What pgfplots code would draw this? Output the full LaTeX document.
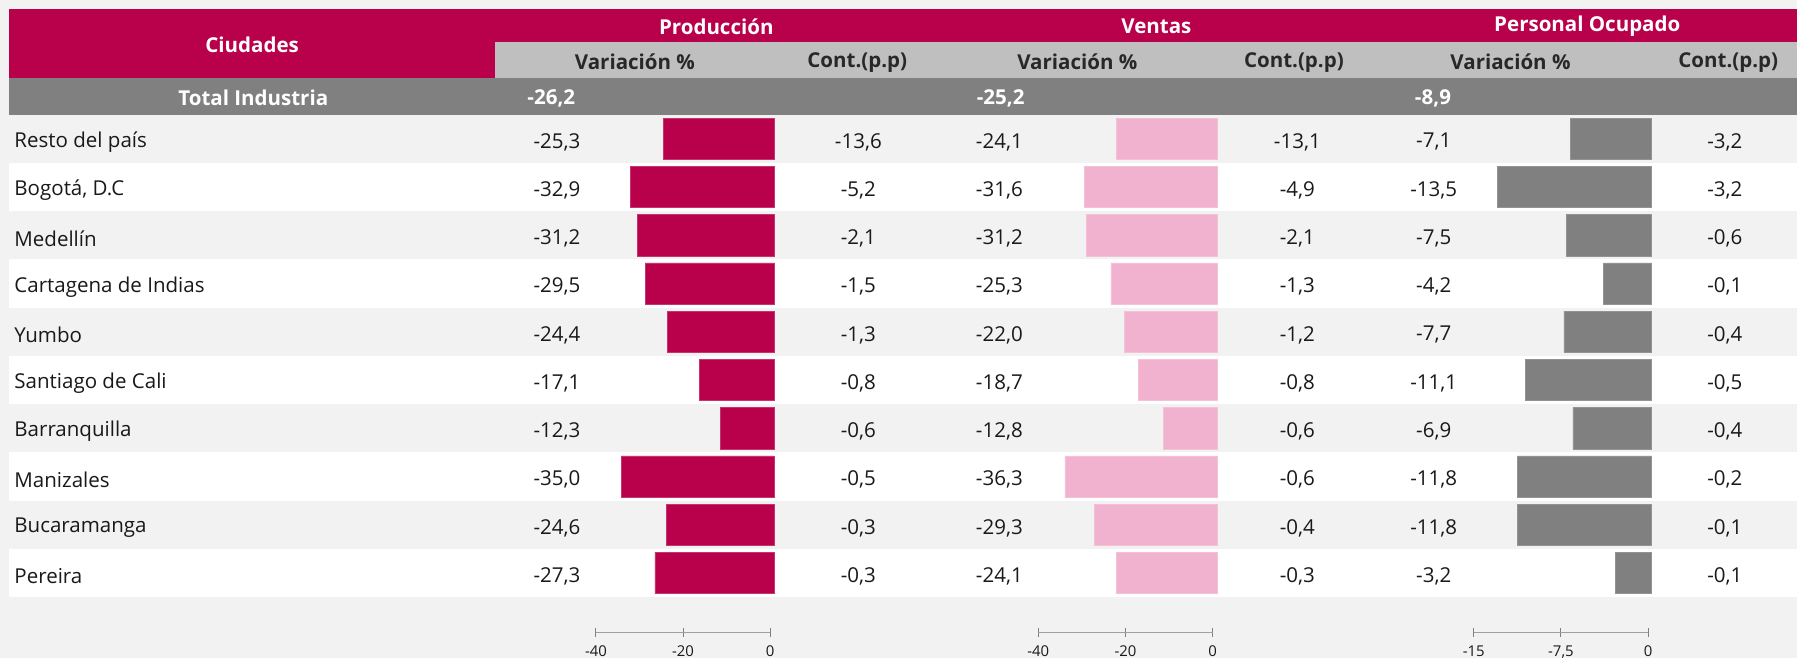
\documentclass[border=0pt]{standalone}
\usepackage{pgfplots}
\pgfplotsset{compat=1.18}
\usepackage{pgfplotstable}
\usepackage{fontspec}
\setmainfont{Open Sans}
\definecolor{crim}{RGB}{185,0,74}
\definecolor{pinkb}{RGB}{241,178,208}
\definecolor{greyb}{RGB}{128,128,128}
\definecolor{subh}{RGB}{191,191,191}
\definecolor{bgl}{RGB}{242,242,242}
\definecolor{txt}{RGB}{25,25,25}
\definecolor{htxt}{RGB}{40,40,40}
\newcommand{\bodyfont}{\fontsize{8.95}{10}\selectfont}
\newcommand{\headfont}{\fontsize{8.95}{10}\selectfont\bfseries}

\pgfplotstableread{
row prodv prodc ventv ventc persv persc
1 -25.3 -13.6 -24.1 -13.1 -7.1 -3.2
2 -32.9 -5.2 -31.6 -4.9 -13.5 -3.2
3 -31.2 -2.1 -31.2 -2.1 -7.5 -0.6
4 -29.5 -1.5 -25.3 -1.3 -4.2 -0.1
5 -24.4 -1.3 -22.0 -1.2 -7.7 -0.4
6 -17.1 -0.8 -18.7 -0.8 -11.1 -0.5
7 -12.3 -0.6 -12.8 -0.6 -6.9 -0.4
8 -35.0 -0.5 -36.3 -0.6 -11.8 -0.2
9 -24.6 -0.3 -29.3 -0.4 -11.8 -0.1
10 -27.3 -0.3 -24.1 -0.3 -3.2 -0.1
}\datatable

\pgfplotsset{
  barpanel/.style={
    scale only axis, clip=false,
    y dir=reverse, ymin=0.5, ymax=10.5,
    height=210.5pt,
    axis line style={draw=none},
    major tick length=0pt,
    xtick=\empty, ytick=\empty,
    anchor=north east,
    /pgf/number format/assume math mode=true,
  },
  valcol/.style={
    draw=none, mark=none, point meta=explicit,
    nodes near coords={\pgfmathprintnumber[fixed,fixed zerofill,precision=1,use comma,assume math mode=true]{\pgfplotspointmeta}},
    every node near coord/.style={anchor=center, inner sep=0pt, yshift=-1.4pt, font=\bodyfont, text=txt},
  },
  totcol/.style={
    draw=none, mark=none, point meta=explicit,
    nodes near coords={\pgfmathprintnumber[fixed,fixed zerofill,precision=1,use comma,assume math mode=true]{\pgfplotspointmeta}},
    every node near coord/.style={anchor=center, inner sep=0pt, yshift=-0.8pt, font=\headfont, text=white},
  },
  scalepanel/.style={
    scale only axis, width=76pt, height=8pt, anchor=south east,
    ymin=0, ymax=1,
    axis x line*=bottom, axis y line=none,
    axis line style={draw=gray!75, line width=0.75pt},
    x tick style={draw=gray, line width=0.45pt},
    major tick length=4pt, tick align=center,
    xticklabel style={font=\fontsize{6.5}{7}\selectfont, text=txt, inner sep=1pt, yshift=-2.6pt},
    /pgf/number format/assume math mode=true,
    /pgf/number format/use comma,
  },
}

\begin{document}
\begin{tikzpicture}
\begin{scope}[x=0.5pt,y=-0.5pt]
\fill[bgl] (0,0) rectangle (1568,574);
\fill[crim] (8,8) rectangle (1568,37);
\fill[crim] (8,8) rectangle (432,68);
\fill[subh] (432,37) rectangle (1568,68);
\fill[greyb] (8,68) rectangle (1568,100);
\foreach \i in {2,4,6,8,10} {
  \fill[white] (8,{100+42.1*(\i-1)}) rectangle (1568,{100+42.1*\i});
}
\begin{scope}[every node/.style={font=\headfont, yshift=-0.6pt}]
\node[text=white] at (220,38) {Ciudades};
\node[text=white] at (625,22) {Producción};
\node[text=white] at (1009,22) {Ventas};
\node[text=white] at (1385,22) {Personal Ocupado};
\node[text=htxt] at (554,53) {Variación \%};
\node[text=htxt] at (748,53) {Cont.(p.p)};
\node[text=htxt] at (940,53) {Variación \%};
\node[text=htxt] at (1129,53) {Cont.(p.p)};
\node[text=htxt] at (1318,53) {Variación \%};
\node[text=htxt] at (1508,53) {Cont.(p.p)};
\node[text=white] at (221,84) {Total Industria};
\end{scope}
\end{scope}

% Produccion
\begin{axis}[barpanel, at={(338pt,-50pt)}, width=76.6pt, xmin=-40, xmax=0,
  ytick={1,...,10},
  yticklabels={Resto del país,{Bogotá, D.C},Medellín,Cartagena de Indias,Yumbo,Santiago de Cali,Barranquilla,Manizales,Bucaramanga,Pereira},
  yticklabel style={anchor=west, inner sep=0pt, xshift=-255.3pt, yshift=-1.4pt, font=\bodyfont, text=txt},
  ]
\addplot[xbar, bar width=0.855, fill=crim, draw=crim!80!white, line width=0.3pt] table[x=prodv, y=row] {\datatable};
\addplot[valcol] table[x expr=-49.61, y=row, meta=prodv] {\datatable};
\addplot[valcol] table[x expr=19.06, y=row, meta=prodc] {\datatable};
\addplot[totcol] coordinates {(-50.9,0.12) [-26.2]};
\end{axis}

% Ventas
\begin{axis}[barpanel, at={(531pt,-50pt)}, width=73.2pt, xmin=-40, xmax=0]
\addplot[xbar, bar width=0.855, fill=pinkb, draw=pinkb!80!white, line width=0.3pt] table[x=ventv, y=row] {\datatable};
\addplot[valcol] table[x expr=-51.91, y=row, meta=ventv] {\datatable};
\addplot[valcol] table[x expr=19.13, y=row, meta=ventc] {\datatable};
\addplot[totcol] coordinates {(-51.6,0.12) [-25.2]};
\end{axis}

% Personal
\begin{axis}[barpanel, at={(720.5pt,-50pt)}, width=74.475pt, xmin=-15, xmax=0]
\addplot[xbar, bar width=0.855, fill=greyb, draw=greyb!85!white, line width=0.3pt] table[x=persv, y=row] {\datatable};
\addplot[valcol] table[x expr=-19.13, y=row, meta=persv] {\datatable};
\addplot[valcol] table[x expr=6.445, y=row, meta=persc] {\datatable};
\addplot[totcol] coordinates {(-19.2,0.12) [-8.9]};
\end{axis}

% scale axes
\begin{axis}[scalepanel, at={(336pt,-276pt)}, xmin=-40, xmax=0, xtick={-40,-20,0}]
\addplot[draw=none] coordinates {(-40,0) (0,0)};
\end{axis}
\begin{axis}[scalepanel, at={(529pt,-276pt)}, xmin=-40, xmax=0, xtick={-40,-20,0}]
\addplot[draw=none] coordinates {(-40,0) (0,0)};
\end{axis}
\begin{axis}[scalepanel, at={(719pt,-276pt)}, xmin=-15, xmax=0, xtick={-15,-7.5,0}]
\addplot[draw=none] coordinates {(-15,0) (0,0)};
\end{axis}
\pgfresetboundingbox
\useasboundingbox (0,0) rectangle (784pt,-287pt);
\end{tikzpicture}
\end{document}
